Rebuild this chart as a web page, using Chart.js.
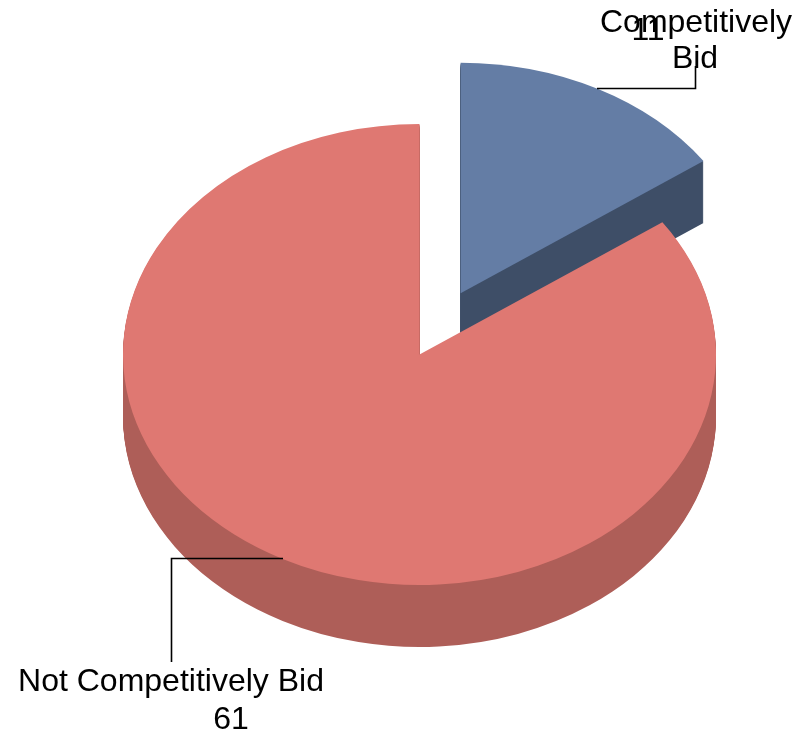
<!DOCTYPE html>
<html>
<head>
<meta charset="utf-8">
<style>
  html, body { margin: 0; padding: 0; background: #fff; }
  .chart-wrap { width: 799px; height: 736px; }
</style>
<script src="https://cdn.jsdelivr.net/npm/chart.js@4/dist/chart.umd.min.js"></script>
</head>
<body>
<div class="chart-wrap"><canvas id="chart" width="799" height="736"></canvas></div>
<script>
const CATEGORIES = ['Competitively Bid', 'Not Competitively Bid'];
const VALUES = [11, 61];
const TOP_COLORS = ['#647da5', '#df7872'];
const SIDE_COLORS = ['#3e4e67', '#ae5e58'];
const EXPLODE = [89, 0];

// fake 3d: squash the pie vertically and stack darker copies underneath
const PIE = { x: 419.5, y: 354.5, radius: 296.5, squash: 230.5 / 296.5, depth: 62 };

// text and leader lines sit outside the pie, so they are placed by hand
const LABELS = [
  { text: 'Competitively', x: 696, y: 32 },
  { text: '11', x: 648, y: 40 },
  { text: 'Bid', x: 695, y: 68 },
  { text: 'Not Competitively Bid', x: 171, y: 691 },
  { text: '61', x: 231, y: 729 },
];
const LEADERS = [
  [[597, 88.5], [695.5, 88.5], [695.5, 66]],
  [[283, 558.5], [171.5, 558.5], [171.5, 662]],
];

function drawArc(ctx, arc, i, drop, color) {
  const { x, y, startAngle, endAngle } = arc.getProps(['x', 'y', 'startAngle', 'endAngle'], true);
  const mid = (startAngle + endAngle) / 2;
  const saved = arc.options;
  arc.options = Object.assign({}, saved, { backgroundColor: color, borderWidth: 0 });
  ctx.save();
  ctx.translate(PIE.x + Math.cos(mid) * EXPLODE[i], PIE.y + drop + Math.sin(mid) * EXPLODE[i] * PIE.squash);
  ctx.scale(1, PIE.squash);
  ctx.translate(-x, -y);
  arc.draw(ctx);
  ctx.restore();
  arc.options = saved;
}

const pie3d = {
  id: 'pie3d',
  beforeDatasetDraw(chart, args) {
    args.meta.data.forEach((arc, i) => {
      // each slice on its own layer, stacking copies leaves +-1 colour bands otherwise
      const layer = document.createElement('canvas');
      layer.width = chart.width;
      layer.height = chart.height;
      const ctx = layer.getContext('2d');
      for (let d = PIE.depth; d > 0; d--) drawArc(ctx, arc, i, d, SIDE_COLORS[i]);
      ctx.globalCompositeOperation = 'source-atop';
      ctx.fillStyle = SIDE_COLORS[i];
      ctx.fillRect(0, 0, layer.width, layer.height);
      ctx.globalCompositeOperation = 'source-over';
      drawArc(ctx, arc, i, 0, TOP_COLORS[i]);
      chart.ctx.drawImage(layer, 0, 0);
    });
    return false;
  },
  afterDraw(chart) {
    const ctx = chart.ctx;
    ctx.save();
    ctx.fillStyle = '#000';
    ctx.font = '32px "Liberation Sans", Arial, sans-serif';
    ctx.textAlign = 'center';
    ctx.textBaseline = 'alphabetic';
    LABELS.forEach((l) => ctx.fillText(l.text, l.x, l.y));
    ctx.strokeStyle = '#000';
    ctx.lineWidth = 1.6;
    LEADERS.forEach((pts) => {
      ctx.beginPath();
      pts.forEach((p, i) => (i ? ctx.lineTo(p[0], p[1]) : ctx.moveTo(p[0], p[1])));
      ctx.stroke();
    });
    ctx.restore();
  },
};

new Chart(document.getElementById('chart'), {
  type: 'pie',
  data: {
    labels: CATEGORIES,
    datasets: [{ data: VALUES, backgroundColor: TOP_COLORS, borderWidth: 0 }],
  },
  options: {
    responsive: false,
    animation: false,
    radius: PIE.radius,
    layout: { padding: 0 },
    plugins: { legend: { display: false }, tooltip: { enabled: false } },
  },
  plugins: [pie3d],
});
</script>
</body>
</html>
